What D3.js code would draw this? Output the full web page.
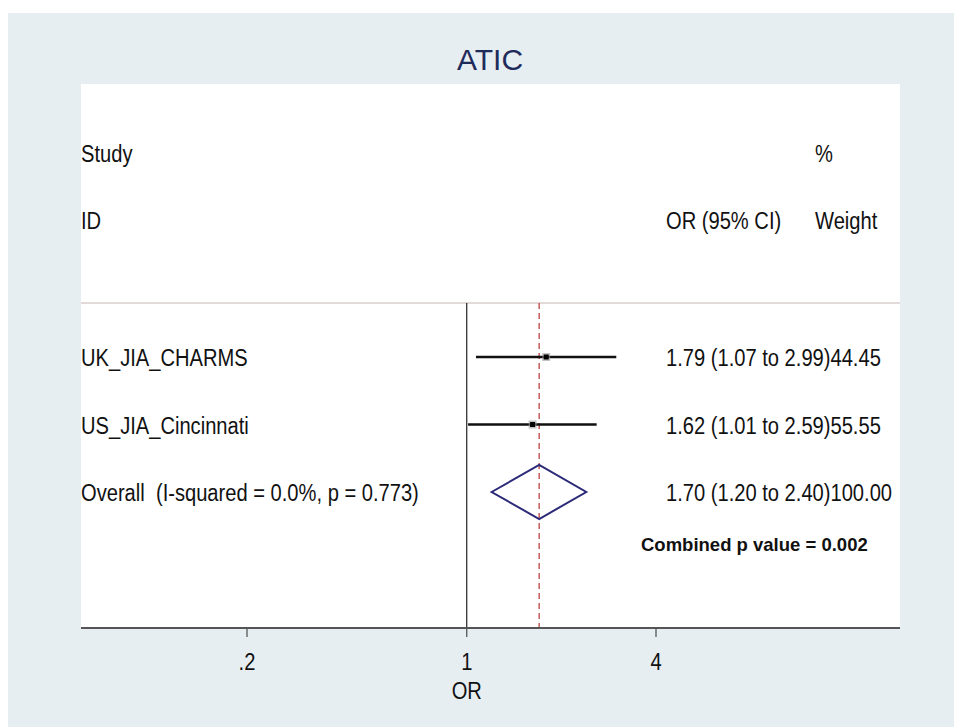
<!DOCTYPE html>
<html>
<head>
<meta charset="utf-8">
<script src="https://cdn.jsdelivr.net/npm/d3@7"></script>
<style>
  body { margin: 0; background: #fff; }
  text { font-family: "Liberation Sans", Arial, sans-serif; white-space: pre; }
</style>
</head>
<body>
<div id="chart"></div>
<script>
const BG_COLOR = "#e7eef2";
const CI_COLOR = "#111";
const DIAMOND_COLOR = "#2b2a78";
const DASH_COLOR = "#c0504d";
const SX = 0.875; // stata text is narrow and tall

// study rows
const studies = ["UK_JIA_CHARMS", "US_JIA_Cincinnati"];
const orValues = [1.79, 1.62];
const lowerCI = [1.07, 1.01];
const upperCI = [2.99, 2.59];
const weights = [44.45, 55.55];

// pooled estimate
const overallLabel = "Overall  (I-squared = 0.0%, p = 0.773)";
const overallOR = 1.70;
const overallLower = 1.20;
const overallUpper = 2.40;
const overallWeight = 100.00;
const combinedP = "Combined p value = 0.002";

const tickValues = [0.2, 1, 4];
const tickLabels = [".2", "1", "4"];

let width = 954;
let height = 727;

let svg = d3.select("#chart")
            .append("svg")
            .attr("width", width)
            .attr("height", height);

function place(x, y) {
  return `translate(${x},${y}) scale(${SX},1)`;
}

// outer grey frame and white plot panel
svg.append("rect")
   .attr("x", 8).attr("y", 13)
   .attr("width", width - 8).attr("height", height - 13)
   .attr("fill", BG_COLOR);

let panelL = 81, panelR = 900, panelT = 84, panelB = 628;

svg.append("rect")
   .attr("x", panelL).attr("y", panelT)
   .attr("width", panelR - panelL).attr("height", panelB - panelT)
   .attr("fill", "#fff");

svg.append("text")
   .attr("x", 490).attr("y", 70)
   .attr("text-anchor", "middle")
   .attr("font-size", "30px")
   .attr("fill", "#1f2b5a")
   .text("ATIC");

let x = d3.scaleLog().domain([0.2, 4]).range([247, 656]);

// row positions
let rowNames = studies.concat([overallLabel]);
let y = d3.scalePoint().domain(rowNames).range([357, 492]);

// header
let hdr = svg.append("g").attr("font-size", "23px").attr("fill", "#111");
hdr.append("text").attr("transform", place(81, 162)).text("Study");
hdr.append("text").attr("transform", place(81, 229)).text("ID");
hdr.append("text").attr("transform", place(815, 162)).text("%");
hdr.append("text").attr("transform", place(666, 229)).text("OR (95% CI)");
hdr.append("text").attr("transform", place(815, 229)).text("Weight");

svg.append("line")
   .attr("x1", panelL).attr("x2", panelR)
   .attr("y1", 303).attr("y2", 303)
   .attr("stroke", "#d8cccc")
   .attr("stroke-width", 1.5);

// null line and overall dashed line
svg.append("line")
   .attr("x1", x(1)).attr("x2", x(1))
   .attr("y1", 303).attr("y2", panelB)
   .attr("stroke", "#222")
   .attr("stroke-width", 1.2);

svg.append("line")
   .attr("x1", x(overallOR)).attr("x2", x(overallOR))
   .attr("y1", 303).attr("y2", panelB)
   .attr("stroke", DASH_COLOR)
   .attr("stroke-width", 1.4)
   .attr("stroke-dasharray", "6,4");

// study CIs and point estimates
let rows = svg.append("g")
              .selectAll("g")
              .data(studies)
              .enter()
              .append("g");

rows.append("line")
    .attr("x1", (d, i) => x(lowerCI[i]))
    .attr("x2", (d, i) => x(upperCI[i]))
    .attr("y1", d => y(d)).attr("y2", d => y(d))
    .attr("stroke", CI_COLOR)
    .attr("stroke-width", 2.4);

rows.append("rect")
    .attr("x", (d, i) => x(orValues[i]) - 4)
    .attr("y", d => y(d) - 4)
    .attr("width", 8).attr("height", 8)
    .attr("fill", "#9a9a9a")
    .attr("opacity", 0.6);

rows.append("rect")
    .attr("x", (d, i) => x(orValues[i]) - 2.5)
    .attr("y", d => y(d) - 2.5)
    .attr("width", 5).attr("height", 5)
    .attr("fill", "#000");

// overall diamond
let yo = y(overallLabel);
svg.append("path")
   .attr("d", d3.line()([
     [x(overallLower), yo],
     [x(overallOR), yo - 27],
     [x(overallUpper), yo],
     [x(overallOR), yo + 27]
   ]) + "Z")
   .attr("fill", "none")
   .attr("stroke", DIAMOND_COLOR)
   .attr("stroke-width", 2);

// labels on both sides
let fmt = d3.format(".2f");
let labels = svg.append("g").attr("font-size", "23px").attr("fill", "#111");

labels.selectAll("text.study")
      .data(rowNames)
      .enter()
      .append("text")
      .attr("class", "study")
      .attr("transform", d => place(81, y(d) + 9))
      .text(d => d);

let estText = orValues.map((v, i) =>
  `${fmt(v)} (${fmt(lowerCI[i])} to ${fmt(upperCI[i])})${fmt(weights[i])}`);
estText.push(`${fmt(overallOR)} (${fmt(overallLower)} to ${fmt(overallUpper)})${fmt(overallWeight)}`);

labels.selectAll("text.est")
      .data(estText)
      .enter()
      .append("text")
      .attr("class", "est")
      .attr("transform", (d, i) => place(666, y(rowNames[i]) + 9))
      .text(d => d);

svg.append("text")
   .attr("x", 641).attr("y", 551)
   .attr("font-size", "18.5px")
   .attr("font-weight", "bold")
   .attr("fill", "#111")
   .text(combinedP);

// x axis
let axis = svg.append("g")
              .attr("transform", `translate(0,${panelB})`);

axis.append("line")
    .attr("x1", panelL).attr("x2", panelR)
    .attr("stroke", "#555")
    .attr("stroke-width", 2);

axis.selectAll("line.tick")
    .data(tickValues)
    .enter()
    .append("line")
    .attr("class", "tick")
    .attr("x1", d => x(d)).attr("x2", d => x(d))
    .attr("y1", 0).attr("y2", 9)
    .attr("stroke", "#555")
    .attr("stroke-width", 1.3);

axis.selectAll("text")
    .data(tickValues)
    .enter()
    .append("text")
    .attr("transform", d => place(x(d), 42))
    .attr("text-anchor", "middle")
    .attr("font-size", "23px")
    .attr("fill", "#111")
    .text((d, i) => tickLabels[i]);

svg.append("text")
   .attr("transform", place(x(1), 699))
   .attr("text-anchor", "middle")
   .attr("font-size", "23px")
   .attr("fill", "#111")
   .text("OR");
</script>
</body>
</html>
